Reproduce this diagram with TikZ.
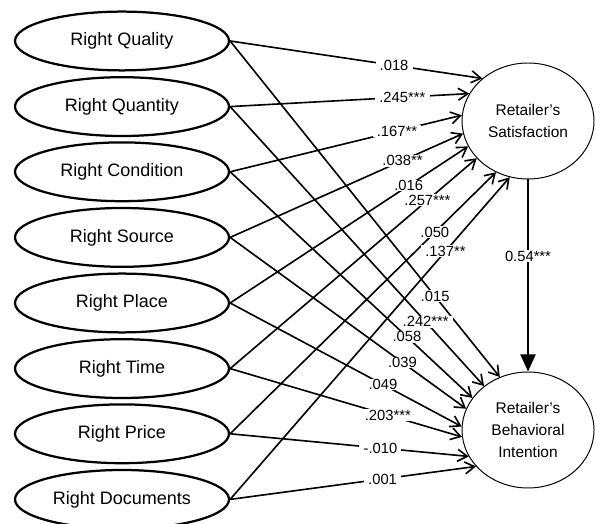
\documentclass[tikz,border=0pt]{standalone}
\usepackage{fontspec}
\setmainfont{Liberation Sans}
\usetikzlibrary{shapes.geometric,arrows.meta}

\begin{document}
\begin{tikzpicture}[
  factor/.style={draw,ellipse,line width=1.6pt,minimum width=5.35cm,minimum height=1.47cm,
    inner sep=0pt,font=\fontsize{12.8}{15}\selectfont},
  outcome/.style={draw,ellipse,line width=0.7pt,minimum width=3.3cm,minimum height=2.9cm,
    inner sep=0pt,align=center,font=\fontsize{11}{15.8}\selectfont},
  arr/.style={-{Straight Barb[length=2.4mm,width=3mm]},line width=1.15pt},
  coef/.style={fill=white,inner xsep=3pt,inner ysep=0.5pt,font=\fontsize{10.5}{12}\selectfont},
  x=1cm,y=1cm]
\useasboundingbox (0,0) rectangle (14.9,13.075);
\node[factor] (qual)  at (3.05,12.05) {Right Quality};
\node[factor] (quan)  at (3.05,10.41) {Right Quantity};
\node[factor] (cond)  at (3.05,8.78)  {Right Condition};
\node[factor] (src)   at (3.05,7.14)  {Right Source};
\node[factor] (place) at (3.05,5.50)  {Right Place};
\node[factor] (time)  at (3.05,3.86)  {Right Time};
\node[factor] (price) at (3.05,2.23)  {Right Price};
\node[factor] (docs)  at (3.05,0.59)  {Right Documents};
\node[outcome] (sat) at (13.2,10.05) {Retailer's\\Satisfaction};
\node[outcome] (bi)  at (13.2,2.325) {Retailer's\\Behavioral\\Intention};
% paths to satisfaction
\draw[arr] (qual.east)  -- node[coef,pos=0.65] {.018}     (sat.137);
\draw[arr] (quan.east)  -- node[coef,pos=0.72] {.245***}  (sat.155);
\draw[arr] (cond.east)  -- node[coef,pos=0.72] {.167**}   (sat.175);
\draw[arr] (src.east)   -- node[coef,pos=0.74] {.038**}   (sat.191);
\draw[arr] (place.east) -- node[coef,pos=0.75] {.016}     (sat.203);
\draw[arr] (time.east)  -- node[coef,pos=0.80] {.257***}  (sat.216);
\draw[arr] (price.east) -- node[coef,pos=0.77] {.050}     (sat.238);
\draw[arr] (docs.east)  -- node[coef,pos=0.77] {.137**}   (sat.252);
% paths to behavioral intention
\draw[arr] (qual.east)  -- node[coef,pos=0.76] {.015}     (bi.118);
\draw[arr] (quan.east)  -- node[coef,pos=0.77] {.242***}  (bi.135);
\draw[arr] (cond.east)  -- node[coef,pos=0.73] {.058}     (bi.150);
\draw[arr] (src.east)   -- node[coef,pos=0.73] {.039}     (bi.161);
\draw[arr] (place.east) -- node[coef,pos=0.66] {.049}     (bi.177);
\draw[arr] (time.east)  -- node[coef,pos=0.68] {.203***}  (bi.186);
\draw[arr] (price.east) -- node[coef,pos=0.63] {-.010}    (bi.204);
\draw[arr] (docs.east)  -- node[coef,pos=0.62] {.001}     (bi.215);
% satisfaction -> intention
\draw[-{Triangle[length=4.3mm,width=3.8mm]},line width=1.3pt]
  (sat) -- node[coef,pos=0.4] {0.54***} (bi);
\end{tikzpicture}
\end{document}
